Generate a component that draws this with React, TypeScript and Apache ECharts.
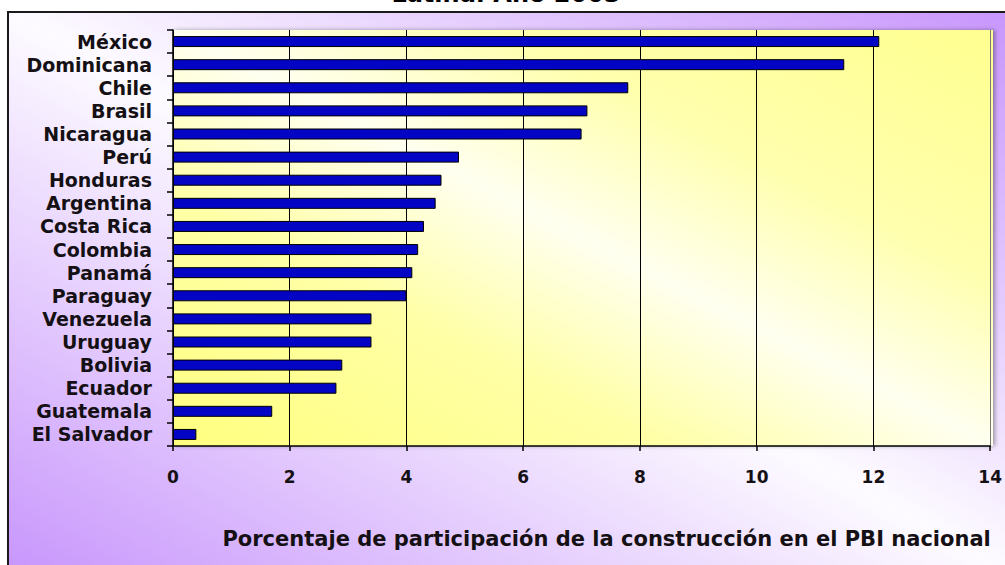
import { useEffect, useRef } from 'react';
import * as echarts from 'echarts';

const categories = ['México', 'Dominicana', 'Chile', 'Brasil', 'Nicaragua', 'Perú', 'Honduras', 'Argentina', 'Costa Rica', 'Colombia', 'Panamá', 'Paraguay', 'Venezuela', 'Uruguay', 'Bolivia', 'Ecuador', 'Guatemala', 'El Salvador'];
const values = [12.1, 11.5, 7.8, 7.1, 7.0, 4.9, 4.6, 4.5, 4.3, 4.2, 4.1, 4.0, 3.4, 3.4, 2.9, 2.8, 1.7, 0.4];
const xMin = 0;
const xMax = 14;
const xStep = 2;
const titleText = 'Latina. Año 2003';
const axisTitle = 'Porcentaje de participación de la construcción en el PBI nacional';

const FONT = 'DejaVu Sans';
const TXT = '#141014';

export default function App() {
  const ref = useRef<HTMLDivElement>(null);
  useEffect(() => {
    document.body.style.margin = '0';
    const chart = echarts.init(ref.current!, null, { renderer: 'svg' });
    const option = {
      animation: false,
      graphic: [
        {
          type: 'rect',
          z: -2,
          shape: { x: 8, y: 12, width: 1010, height: 570 },
          style: {
            fill: new echarts.graphic.LinearGradient(269, 718, 747, -134, [
              { offset: 0, color: '#c896fc' },
              { offset: 0.5, color: '#fdfbff' },
              { offset: 1, color: '#c896fc' },
            ], true),
            stroke: '#1a1a1a',
            lineWidth: 2,
          },
        },
        {
          type: 'rect',
          z: -1,
          shape: { x: 173, y: 30, width: 820, height: 416 },
          style: {
            fill: new echarts.graphic.LinearGradient(415, 569, 751, -93, [
              { offset: 0, color: '#ffff80' },
              { offset: 0.3, color: '#ffffa6' },
              { offset: 0.5, color: '#fffff0' },
              { offset: 0.7, color: '#ffffae' },
              { offset: 1, color: '#ffff90' },
            ], true),
            shadowBlur: 4,
            shadowColor: 'rgba(0,0,0,0.35)',
            shadowOffsetX: 2,
            shadowOffsetY: 0,
          },
        },
        {
          type: 'text',
          z: 5,
          style: {
            text: titleText,
            x: 506,
            y: 6,
            textAlign: 'center',
            textVerticalAlign: 'bottom',
            font: `bold 24px "${FONT}"`,
            fill: '#000',
          },
        },
      ],
      grid: { left: 173, right: 12, top: 30, bottom: 119, containLabel: false },
      xAxis: {
        type: 'value',
        min: xMin,
        max: xMax,
        interval: xStep,
        axisLine: { show: true, lineStyle: { color: '#000', width: 1.5 } },
        axisTick: { show: true, length: 5, lineStyle: { color: '#000', width: 1.5 } },
        splitLine: {
          show: true,
          lineStyle: { color: ['#000', '#000', '#000', '#000', '#000', '#000', '#000', '#777'], width: 1 },
        },
        axisLabel: {
          color: TXT,
          fontFamily: FONT,
          fontWeight: 'bold',
          fontSize: 17,
          margin: 22,
        },
        name: axisTitle,
        nameLocation: 'middle',
        nameGap: 82,
        nameTextStyle: {
          color: TXT,
          fontFamily: FONT,
          fontWeight: 'bold',
          fontSize: 21,
          padding: [0, 0, 0, 50],
        },
      },
      yAxis: {
        type: 'category',
        data: categories,
        inverse: true,
        axisLine: { show: true, lineStyle: { color: '#000', width: 1.5 } },
        axisTick: { show: true, length: 6, lineStyle: { color: '#000', width: 1.5 } },
        splitLine: { show: false },
        axisLabel: {
          interval: 0,
          hideOverlap: false,
          color: TXT,
          fontFamily: FONT,
          fontWeight: 'bold',
          fontSize: 19,
          lineHeight: 19,
          margin: 21,
        },
      },
      series: [
        {
          type: 'bar',
          data: values,
          barWidth: 11,
          itemStyle: { color: '#0404c4', borderColor: '#000', borderWidth: 1 },
        },
      ],
    };
    chart.setOption(option as any);
    return () => chart.dispose();
  }, []);
  return <div ref={ref} style={{ width: 1005, height: 565 }} />;
}
